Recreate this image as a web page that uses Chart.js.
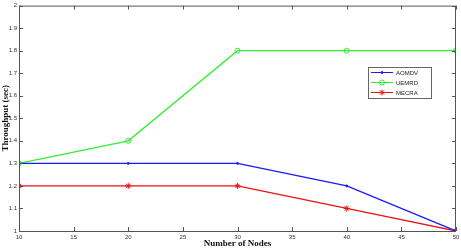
<!DOCTYPE html>
<html>
<head>
<meta charset="utf-8">
<script src="https://cdn.jsdelivr.net/npm/chart.js@4/dist/chart.umd.min.js"></script>
<style>
    body { margin: 0; background: #fff; }
    #wrap { width: 461px; height: 249px; }
</style>
</head>
<body>
<div id="wrap"><canvas id="chart"></canvas></div>
<script>
const nodes = [10, 20, 30, 40, 50];
const aomdv = [1.3, 1.3, 1.3, 1.2, 1.0];
const uemrd = [1.3, 1.4, 1.8, 1.8, 1.8];
const mecra = [1.2, 1.2, 1.2, 1.1, 1.0];
const seriesNames = ["AOMDV", "UEMRD", "MECRA"];

// MATLAB style box with inward ticks, plus the legend inside the plot
const boxPlugin = {
    id: 'box',
    afterDraw(chart) {
        const ctx = chart.ctx;
        const a = chart.chartArea;
        const xs = chart.scales.x, ys = chart.scales.y;
        ctx.save();
        ctx.strokeStyle = '#555';
        ctx.lineWidth = 1;
        ctx.strokeRect(a.left + 0.5, a.top + 0.5, a.right - a.left - 1, a.bottom - a.top);
        ctx.beginPath();
        xs.ticks.forEach(t => {
            const x = Math.round(xs.getPixelForValue(t.value)) + 0.5;
            ctx.moveTo(x, a.bottom); ctx.lineTo(x, a.bottom - 4);
            ctx.moveTo(x, a.top); ctx.lineTo(x, a.top + 4);
        });
        ys.ticks.forEach(t => {
            const y = Math.round(ys.getPixelForValue(t.value)) + 0.5;
            ctx.moveTo(a.left, y); ctx.lineTo(a.left + 4, y);
            ctx.moveTo(a.right, y); ctx.lineTo(a.right - 4, y);
        });
        ctx.stroke();

        // legend
        const lx = 368, ly = 67, lw = 63, lh = 31;
        ctx.fillStyle = '#fff';
        ctx.fillRect(lx, ly, lw, lh);
        ctx.strokeStyle = '#666';
        ctx.strokeRect(lx + 0.5, ly + 0.5, lw, lh);
        chart.data.datasets.forEach((ds, i) => {
            const y = ly + 5.5 + i * 10;
            ctx.strokeStyle = ds.borderColor;
            ctx.fillStyle = ds.pointBackgroundColor;
            ctx.lineWidth = 1;
            ctx.beginPath();
            ctx.moveTo(lx + 3, y); ctx.lineTo(lx + 25, y);
            ctx.stroke();
            Chart.helpers.drawPoint(ctx, {
                pointStyle: ds.pointStyle, radius: ds.pointRadius,
                borderWidth: 1
            }, lx + 14, y);
            ctx.fillStyle = '#222';
            ctx.font = '6px "Liberation Sans"';
            ctx.textBaseline = 'middle';
            ctx.fillText(ds.label, lx + 28, y + 0.5);
        });
        ctx.restore();
    }
};

function makeSet(label, data, color, style, r) {
    return {
        label: label,
        data: data,
        borderColor: color,
        backgroundColor: color,
        pointBorderColor: color,
        pointBackgroundColor: style === 'circle' && r > 1 ? 'rgba(0,0,0,0)' : color,
        pointStyle: style,
        pointRadius: r,
        pointBorderWidth: 1,
        borderWidth: 1.3,
        tension: 0,
        fill: false
    };
}

new Chart(document.getElementById('chart'), {
    type: 'line',
    data: {
        labels: nodes,
        datasets: [
            makeSet(seriesNames[0], aomdv, '#1a1aff', 'circle', 1),
            makeSet(seriesNames[1], uemrd, '#33ee33', 'circle', 2.5),
            makeSet(seriesNames[2], mecra, '#ee1111', 'star', 3)
        ]
    },
    options: {
        responsive: true,
        maintainAspectRatio: false,
        animation: false,
        layout: { padding: { top: 2, right: 1, left: 0, bottom: 0 } },
        plugins: {
            legend: { display: false },
            tooltip: { enabled: false }
        },
        scales: {
            x: {
                type: 'linear',
                min: 10, max: 50,
                grid: { display: false, drawTicks: false },
                border: { display: false },
                ticks: {
                    stepSize: 5,
                    padding: 3,
                    color: '#333',
                    font: { size: 6, family: 'Liberation Sans' },
                    maxRotation: 0
                },
                title: {
                    display: true,
                    text: 'Number of Nodes',
                    color: '#111',
                    padding: { top: 0, bottom: 0 },
                    font: { size: 9, weight: 'bold', family: 'Liberation Serif' }
                },
                afterFit: s => { s.height = 18; s.paddingRight = 0; }
            },
            y: {
                min: 1, max: 2,
                grid: { display: false, drawTicks: false },
                border: { display: false },
                ticks: {
                    stepSize: 0.1,
                    padding: 2,
                    color: '#333',
                    font: { size: 6, family: 'Liberation Sans' },
                    callback: v => Math.round(v * 10) / 10
                },
                title: {
                    display: true,
                    text: 'Throughput (sec)',
                    color: '#111',
                    padding: { top: 0, bottom: 0 },
                    font: { size: 9, weight: 'bold', family: 'Liberation Serif' }
                },
                afterFit: s => { s.width = 19; }
            }
        }
    },
    plugins: [boxPlugin]
});
</script>
</body>
</html>
